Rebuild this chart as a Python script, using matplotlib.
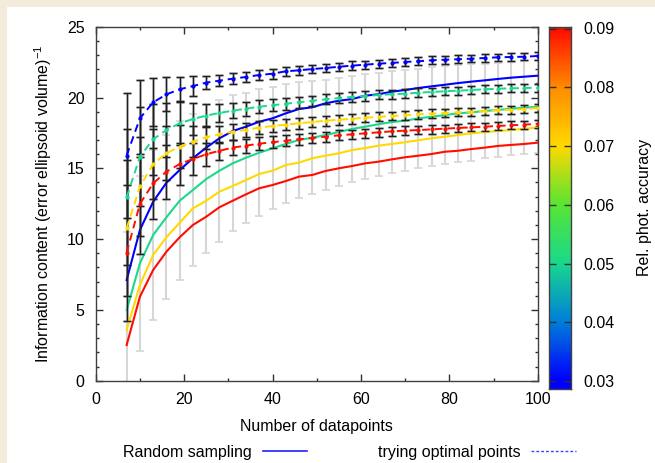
import numpy as np
import matplotlib
matplotlib.use('Agg')
import matplotlib.pyplot as plt
from matplotlib.colors import LinearSegmentedColormap, Normalize
from matplotlib.lines import Line2D
from matplotlib.patches import Rectangle
from matplotlib.ticker import MultipleLocator

plt.rcParams['font.family'] = ['Liberation Sans', 'DejaVu Sans']
plt.rcParams['mathtext.default'] = 'regular'

# ---------------- data ----------------
n_points = list(range(7, 101, 3))
accuracies = [0.03, 0.05, 0.07, 0.09]

random_003 = [7.11, 10.64, 12.64, 13.98, 14.88, 15.71, 16.46, 17.12, 17.63, 17.94,
              18.29, 18.53, 18.88, 19.19, 19.31, 19.59, 19.77, 19.89, 20.13, 20.23,
              20.41, 20.53, 20.67, 20.79, 20.90, 21.02, 21.12, 21.21, 21.31, 21.40,
              21.47, 21.54]
random_005 = [4.99, 8.29, 10.29, 11.54, 12.71, 13.47, 14.24, 14.83, 15.35, 15.75,
              16.10, 16.41, 16.72, 17.00, 17.16, 17.35, 17.56, 17.78, 17.94, 18.11,
              18.27, 18.36, 18.53, 18.64, 18.76, 18.88, 18.95, 19.05, 19.12, 19.21,
              19.28, 19.35]
random_007 = [3.58, 6.76, 8.88, 10.13, 11.16, 12.17, 12.71, 13.35, 13.75, 14.17,
              14.60, 14.83, 15.23, 15.40, 15.71, 15.89, 16.06, 16.29, 16.43, 16.60,
              16.72, 16.84, 16.98, 17.12, 17.23, 17.35, 17.47, 17.56, 17.63, 17.70,
              17.80, 17.87]
random_009 = [2.52, 5.93, 7.82, 9.11, 10.13, 11.00, 11.58, 12.25, 12.71, 13.16,
              13.59, 13.82, 14.10, 14.41, 14.53, 14.81, 15.00, 15.16, 15.35, 15.47,
              15.63, 15.78, 15.89, 16.01, 16.17, 16.24, 16.36, 16.46, 16.58, 16.65,
              16.72, 16.81]

optimal_003 = [15.90, 18.53, 19.66, 20.22, 20.58, 20.81, 21.05, 21.19, 21.33, 21.45,
               21.59, 21.68, 21.85, 21.92, 22.01, 22.08, 22.17, 22.25, 22.32, 22.39,
               22.44, 22.51, 22.56, 22.63, 22.67, 22.70, 22.74, 22.79, 22.84, 22.86,
               22.88, 22.93]
optimal_005 = [12.95, 15.82, 17.05, 17.70, 18.18, 18.48, 18.72, 18.91, 19.07, 19.21,
               19.35, 19.45, 19.56, 19.66, 19.77, 19.87, 19.96, 20.04, 20.11, 20.18,
               20.23, 20.27, 20.34, 20.39, 20.44, 20.48, 20.53, 20.58, 20.62, 20.65,
               20.67, 20.69]
optimal_007 = [10.76, 13.72, 15.30, 16.06, 16.53, 16.88, 17.19, 17.40, 17.58, 17.73,
               17.87, 17.99, 18.08, 18.18, 18.27, 18.36, 18.43, 18.50, 18.57, 18.64,
               18.69, 18.74, 18.81, 18.86, 18.91, 18.95, 19.00, 19.05, 19.10, 19.14,
               19.19, 19.26]
optimal_009 = [9.04, 12.48, 13.94, 14.76, 15.30, 15.66, 15.99, 16.24, 16.46, 16.60,
               16.74, 16.84, 16.95, 17.05, 17.14, 17.23, 17.33, 17.40, 17.47, 17.54,
               17.61, 17.66, 17.70, 17.75, 17.80, 17.85, 17.89, 17.94, 17.99, 18.04,
               18.08, 18.15]

# error bars
err_random_005 = [5.5, 6.2, 6.0, 5.8, 5.6, 5.4, 5.2, 5.0, 4.8, 4.6,
                  4.5, 4.3, 4.2, 4.1, 4.0, 3.9, 3.8, 3.75, 3.7, 3.65,
                  3.6, 3.55, 3.5, 3.5, 3.45, 3.4, 3.4, 3.35, 3.35, 3.3,
                  3.3, 3.3]
err_optimal_003 = [4.4, 2.7, 1.7, 1.2, 0.85, 0.7, 0.45, 0.4, 0.38, 0.36,
                   0.35, 0.34, 0.33, 0.32, 0.31, 0.31, 0.30, 0.30, 0.29, 0.29,
                   0.28, 0.28, 0.28, 0.27, 0.27, 0.27, 0.26, 0.26, 0.26, 0.26,
                   0.25, 0.25]
err_optimal = [4.8, 3.5, 2.5, 1.9, 1.5, 1.1, 0.8, 0.62, 0.55, 0.5,
               0.46, 0.43, 0.41, 0.39, 0.37, 0.36, 0.35, 0.34, 0.33, 0.32,
               0.31, 0.31, 0.30, 0.30, 0.29, 0.29, 0.28, 0.28, 0.28, 0.27,
               0.27, 0.27]

random_series = [random_003, random_005, random_007, random_009]
optimal_series = [optimal_003, optimal_005, optimal_007, optimal_009]
optimal_errors = [err_optimal_003, err_optimal, err_optimal, err_optimal]

cbar_ticks = [0.03, 0.04, 0.05, 0.06, 0.07, 0.08, 0.09]
x_ticks = [0, 20, 40, 60, 80, 100]
y_ticks = [0, 5, 10, 15, 20, 25]

# ---------------- style ----------------
W, H = 655, 463
fig = plt.figure(figsize=(W / 100, H / 100), dpi=100)
fig.patch.set_facecolor('#f3ecdb')
bg = fig.add_axes([7 / W, 0, 1 - 7 / W, 1 - 7 / H], zorder=-10)
bg.set_axis_off()
bg.add_patch(Rectangle((0, 0), 1, 1, transform=bg.transAxes, facecolor='white',
                       edgecolor='none'))

cmap = LinearSegmentedColormap.from_list('acc', [
    (0.0, (0.0, 0.0, 1.0)),
    (1 / 6, (0.0, 0.5, 0.85)),
    (2 / 6, (0.1, 0.85, 0.55)),
    (3 / 6, (0.35, 0.9, 0.2)),
    (4 / 6, (1.0, 0.85, 0.0)),
    (5 / 6, (1.0, 0.55, 0.0)),
    (1.0, (1.0, 0.05, 0.0)),
])
norm = Normalize(0.03, 0.09)

fs = 11.5
ax_l, ax_r, ax_t, ax_b = 95.7, 537.7, 26.7, 380.7
ax = fig.add_axes([ax_l / W, 1 - ax_b / H, (ax_r - ax_l) / W, (ax_b - ax_t) / H])
ax.set_facecolor('none')

x = np.array(n_points)

# gray error bars of random sampling (0.05 series)
ax.errorbar(x, random_005, yerr=err_random_005, fmt='none', ecolor='#d6d6d6',
            elinewidth=1.5, capsize=3.0, capthick=1.2, zorder=1)

for acc, ys in zip(accuracies, random_series):
    ax.plot(x, ys, '-', color=cmap(norm(acc)), lw=1.5, zorder=3)

for acc, ys, es in zip(accuracies, optimal_series, optimal_errors):
    c = cmap(norm(acc))
    ax.errorbar(x, ys, yerr=es, fmt='none', ecolor='#a0a0a0', alpha=0.5,
                elinewidth=2.2, capsize=3.2, capthick=2.2, zorder=2)
    ax.errorbar(x, ys, yerr=es, fmt='none', ecolor='#202020',
                elinewidth=1.0, capsize=2.8, capthick=1.0, zorder=4)
    ax.plot(x, ys, linestyle=(0, (4, 2.5)), color=c, lw=1.4, marker='o',
            markersize=2.0, zorder=5)

ax.set_xlim(0, 100)
ax.set_ylim(0, 25)
ax.set_xticks(x_ticks)
ax.set_yticks(y_ticks)
ax.xaxis.set_minor_locator(MultipleLocator(10))
ax.yaxis.set_minor_locator(MultipleLocator(1))
ax.tick_params(which='both', direction='in', top=True, right=True, labelsize=fs,
               color='#303030', pad=8)
ax.tick_params(which='major', length=5, width=1)
ax.tick_params(which='minor', length=2.5, width=1)
for s in ax.spines.values():
    s.set_color('#404040')
    s.set_linewidth(1.0)

ax.set_xlabel('Number of datapoints', fontsize=fs, labelpad=9)
ax.set_ylabel('Information content (error ellipsoid volume)$^{-1}$', fontsize=fs, labelpad=9)

# colorbar
cb_l, cb_r, cb_t, cb_b = 549, 571, 26.7, 389
cax = fig.add_axes([cb_l / W, 1 - cb_b / H, (cb_r - cb_l) / W, (cb_b - cb_t) / H])
lo = 0.03 - (cb_b - 381) / (381 - 28.5) * 0.06
hi = 0.09 + (28.5 - cb_t) / (381 - 28.5) * 0.06
grad = np.linspace(lo, hi, 256).reshape(-1, 1)
cax.imshow(grad, aspect='auto', cmap=cmap, norm=norm, origin='lower',
           extent=[0, 1, lo, hi])
cax.set_xlim(0, 1)
cax.set_ylim(lo, hi)
cax.set_xticks([])
cax.set_yticks(cbar_ticks)
cax.set_yticklabels([f'{t:.2f}' for t in cbar_ticks])
cax.yaxis.tick_right()
cax.tick_params(axis='y', direction='in', left=True, right=True, length=5,
                width=1, color='#303030', labelsize=fs, pad=9)
for s in cax.spines.values():
    s.set_color('#404040')
    s.set_linewidth(1.0)
fig.text(645 / W, 1 - 207 / H, 'Rel. phot. accuracy', rotation=90, ha='center',
         va='center', fontsize=fs)

# legend (gnuplot style: text before sample)
h1 = Line2D([], [], color='#2020ff', lw=1.2)
h2 = Line2D([], [], color='#4040ff', lw=1.0, linestyle=(0, (2, 1.5)))
fig.legend([h1, h2], ['Random sampling', 'trying optimal points'], ncol=2,
           markerfirst=False, frameon=False, fontsize=fs, handlelength=2.8,
           handletextpad=0.7, columnspacing=4.4, loc='center',
           bbox_to_anchor=(349.4 / W, 1 - 452.3 / H))

fig.savefig('out.png', dpi=100, facecolor=fig.get_facecolor())
